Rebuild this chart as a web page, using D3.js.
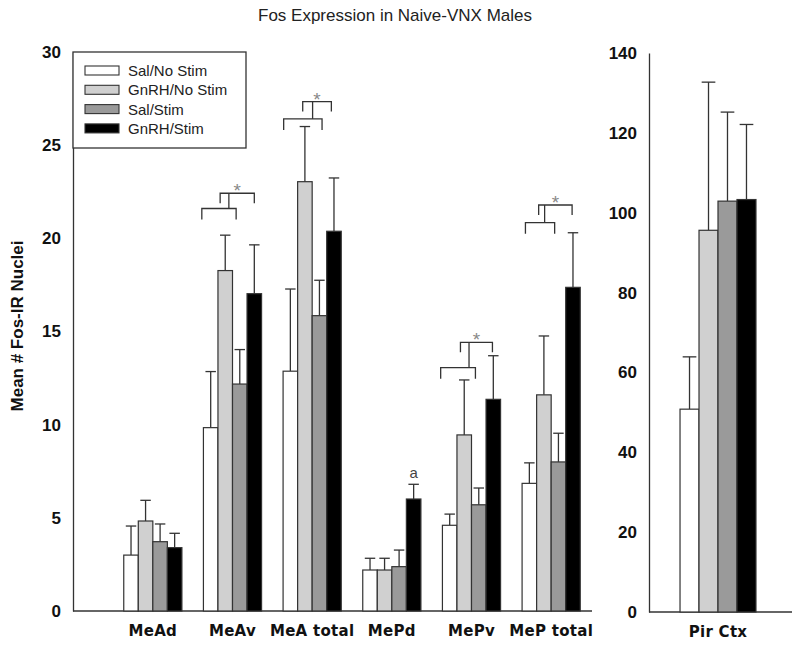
<!DOCTYPE html>
<html>
<head>
<meta charset="utf-8">
<script src="https://cdn.jsdelivr.net/npm/d3@7"></script>
<style>
    body { margin: 0; background: #fff; }
    svg { display: block; }
</style>
</head>
<body>
<div id="chart"></div>
<script>
// group labels and series names
var categories = ["MeAd", "MeAv", "MeA total", "MePd", "MePv", "MeP total"];
var series = ["Sal/No Stim", "GnRH/No Stim", "Sal/Stim", "GnRH/Stim"];

// means
var salNoStim   = [3.0, 9.84, 12.87, 2.2, 4.6, 6.85];
var gnrhNoStim  = [4.83, 18.27, 23.04, 2.2, 9.45, 11.6];
var salStim     = [3.72, 12.18, 15.85, 2.38, 5.7, 8.0];
var gnrhStim    = [3.40, 17.03, 20.38, 6.01, 11.36, 17.37];
// SEM (upper error bar only)
var salNoStimErr  = [1.56, 3.01, 4.41, 0.63, 0.6, 1.1];
var gnrhNoStimErr = [1.11, 1.9, 2.96, 0.63, 2.95, 3.16];
var salStimErr    = [0.95, 1.85, 1.9, 0.89, 0.9, 1.54];
var gnrhStimErr   = [0.77, 2.62, 2.86, 0.79, 2.34, 2.93];

// piriform cortex panel
var pirCategory = ["Pir Ctx"];
var pirValues = [50.8, 95.6, 102.9, 103.3];
var pirErr = [13.1, 37.1, 22.3, 18.8];

var leftTicks = [0, 5, 10, 15, 20, 25, 30];
var rightTicks = [0, 20, 40, 60, 80, 100, 120, 140];

// significance brackets: lower joins the two No Stim bars, upper joins it to GnRH/Stim
// x in bar units inside the group, y in data units
var bracketCats  = ["MeAv", "MeA total", "MePv", "MeP total"];
var bracketLow   = [21.6, 26.41, 13.06, 20.84];
var bracketHigh  = [22.42, 27.34, 14.42, 21.79];
var bracketLowX  = [[-0.11, 2.25], [0.04, 2.68], [-0.12, 2.27], [0.23, 2.24]];
var bracketHighX = [[1.15, 3.5], [1.35, 3.32], [1.24, 3.44], [1.14, 3.44]];
var bracketStem  = [1.75, 2.03, 1.83, 1.55];

var colors = ["#ffffff", "#d0d0d0", "#9a9a9a", "#000000"];
var ink = "#333";

var W = 792, H = 648;
var svg = d3.select("#chart").append("svg")
    .attr("width", W)
    .attr("height", H)
    .style("font-family", "'Liberation Sans', Arial, sans-serif");

svg.append("text")
    .attr("x", 395)
    .attr("y", 21)
    .attr("text-anchor", "middle")
    .attr("font-size", "17px")
    .attr("fill", "#222")
    .text("Fos Expression in Naive-VNX Males");

svg.append("text")
    .attr("transform", "translate(23,326) rotate(-90)")
    .attr("text-anchor", "middle")
    .attr("font-size", "17px")
    .attr("font-weight", "bold")
    .attr("fill", "#111")
    .text("Mean # Fos-IR Nuclei");

// ---------- left panel ----------
var L = {left: 73, right: 592, top: 52, bottom: 611};

var y = d3.scaleLinear().domain([0, 30]).range([L.bottom, L.top]);
var x0 = d3.scaleBand()
    .domain(categories)
    .range([113, 591])
    .paddingInner(0.27)
    .paddingOuter(0.135);
var x1 = d3.scaleBand()
    .domain(series)
    .range([0, x0.bandwidth()]);

var leftRows = categories.map(function (c, i) {
    return {
        cat: c,
        vals: [salNoStim[i], gnrhNoStim[i], salStim[i], gnrhStim[i]],
        errs: [salNoStimErr[i], gnrhNoStimErr[i], salStimErr[i], gnrhStimErr[i]]
    };
});

function drawAxes(g, yScale, ticks, xScale, box) {
    g.append("g")
        .attr("transform", "translate(" + box.left + ",0)")
        .call(d3.axisLeft(yScale).tickValues(ticks).tickSize(0).tickPadding(12).tickSizeOuter(0))
        .call(function (a) {
            a.select(".domain").attr("stroke", ink).attr("stroke-width", 1.3);
            a.selectAll("text")
                .attr("font-size", "17px")
                .attr("font-weight", "bold")
                .attr("font-family", "'Liberation Sans', Arial, sans-serif")
                .attr("fill", "#111");
        });

    g.append("line")
        .attr("x1", box.left)
        .attr("x2", box.right)
        .attr("y1", yScale(0))
        .attr("y2", yScale(0))
        .attr("stroke", ink)
        .attr("stroke-width", 1.3);

    g.append("g")
        .attr("transform", "translate(0," + yScale(0) + ")")
        .call(d3.axisBottom(xScale).tickSize(0).tickPadding(14))
        .call(function (a) {
            a.select(".domain").remove();
            a.selectAll("text")
                .attr("font-size", "15px")
                .attr("font-weight", "bold")
                .attr("font-family", "'DejaVu Sans', sans-serif")
                .attr("letter-spacing", "0.3px")
                .attr("fill", "#111");
        });
}

function drawBars(g, rows, xg, xs, yScale) {
    var groups = g.append("g")
        .selectAll("g")
        .data(rows)
        .enter().append("g")
        .attr("transform", function (d) {
            return "translate(" + xg(d.cat) + ",0)";
        });

    var bars = groups.selectAll("g.bar")
        .data(function (d) {
            return series.map(function (s, k) {
                return {s: s, k: k, v: d.vals[k], e: d.errs[k]};
            });
        })
        .enter().append("g")
        .attr("class", "bar");

    var cap = xs.bandwidth() * 0.36;

    // error bars first so the bar outline sits on top of the stem base
    bars.append("line")
        .attr("x1", function (d) { return xs(d.s) + xs.bandwidth() / 2; })
        .attr("x2", function (d) { return xs(d.s) + xs.bandwidth() / 2; })
        .attr("y1", function (d) { return yScale(d.v); })
        .attr("y2", function (d) { return yScale(d.v + d.e); })
        .attr("stroke", ink)
        .attr("stroke-width", 1.3);
    bars.append("line")
        .attr("x1", function (d) { return xs(d.s) + xs.bandwidth() / 2 - cap; })
        .attr("x2", function (d) { return xs(d.s) + xs.bandwidth() / 2 + cap; })
        .attr("y1", function (d) { return yScale(d.v + d.e); })
        .attr("y2", function (d) { return yScale(d.v + d.e); })
        .attr("stroke", ink)
        .attr("stroke-width", 1.3);

    bars.append("rect")
        .attr("x", function (d) { return xs(d.s); })
        .attr("y", function (d) { return yScale(d.v); })
        .attr("width", xs.bandwidth())
        .attr("height", function (d) { return yScale(0) - yScale(d.v); })
        .attr("fill", function (d) { return colors[d.k]; })
        .attr("stroke", ink)
        .attr("stroke-width", 1.2);
}

var left = svg.append("g");
drawAxes(left, y, leftTicks, x0, L);
drawBars(left, leftRows, x0, x1, y);

// significance brackets
var bw = x1.bandwidth();
var brk = left.append("g")
    .attr("fill", "none")
    .attr("stroke", ink)
    .attr("stroke-width", 1.3);
bracketCats.forEach(function (c, i) {
    var gx = x0(c);
    var lx0 = gx + bracketLowX[i][0] * bw, lx1 = gx + bracketLowX[i][1] * bw;
    var ux0 = gx + bracketHighX[i][0] * bw, ux1 = gx + bracketHighX[i][1] * bw;
    var sx = gx + bracketStem[i] * bw;
    var ly = y(bracketLow[i]), uy = y(bracketHigh[i]);
    brk.append("path")
        .attr("d", "M" + lx0 + "," + (ly + 11) + "V" + ly + "H" + lx1 + "V" + (ly + 11));
    brk.append("path")
        .attr("d", "M" + ux0 + "," + (uy + 10) + "V" + uy + "H" + ux1 + "V" + (uy + 10));
    brk.append("path")
        .attr("d", "M" + sx + "," + uy + "V" + ly);
    left.append("text")
        .attr("x", (ux0 + ux1) / 2)
        .attr("y", uy + 4)
        .attr("text-anchor", "middle")
        .attr("font-size", "19px")
        .attr("fill", "#888")
        .text("*");
});

// "a" over MePd GnRH/Stim
var aIdx = categories.indexOf("MePd");
left.append("text")
    .attr("x", x0("MePd") + x1("GnRH/Stim") + bw / 2)
    .attr("y", y(gnrhStim[aIdx] + gnrhStimErr[aIdx]) - 6)
    .attr("text-anchor", "middle")
    .attr("font-size", "15px")
    .attr("fill", "#444")
    .text("a");

// legend
var legend = left.append("g").attr("transform", "translate(" + L.left + "," + L.top + ")");
legend.append("rect")
    .attr("width", 173)
    .attr("height", 96)
    .attr("fill", "#fff")
    .attr("stroke", ink)
    .attr("stroke-width", 1.3);
var items = legend.selectAll("g.item")
    .data(series)
    .enter().append("g")
    .attr("class", "item")
    .attr("transform", function (d, i) {
        return "translate(12," + (14 + i * 19.3) + ")";
    });
items.append("rect")
    .attr("width", 34)
    .attr("height", 9)
    .attr("fill", function (d, i) { return colors[i]; })
    .attr("stroke", ink)
    .attr("stroke-width", 1.1);
items.append("text")
    .attr("x", 43)
    .attr("y", 10)
    .attr("font-size", "15px")
    .attr("fill", "#222")
    .text(function (d) { return d; });

// ---------- right panel ----------
var R = {left: 649, right: 792, top: 53, bottom: 612};
var yr = d3.scaleLinear().domain([0, 140]).range([R.bottom, R.top]);
var xr0 = d3.scaleBand()
    .domain(pirCategory)
    .range([R.left, 787])
    .padding(0.29);
var xr1 = d3.scaleBand()
    .domain(series)
    .range([0, xr0.bandwidth()]);

var right = svg.append("g");
drawAxes(right, yr, rightTicks, xr0, R);
drawBars(right, [{cat: pirCategory[0], vals: pirValues, errs: pirErr}], xr0, xr1, yr);
</script>
</body>
</html>
